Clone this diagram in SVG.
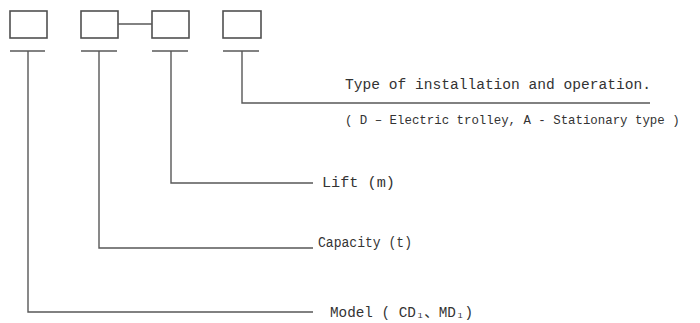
<svg xmlns="http://www.w3.org/2000/svg" width="700" height="323" viewBox="0 0 700 323">
<style>
.box{fill:none;stroke:#505050;stroke-width:1.6}
.ln{fill:none;stroke:#585858;stroke-width:1.4}
.t{font-family:"Liberation Mono","Noto Sans CJK SC",monospace;font-size:14px;fill:#333}
.s{font-size:12.4px}
</style>
<rect width="700" height="323" fill="#fff"/>
<g id="node-model"><rect class="box" x="10" y="11" width="37" height="27"/><line class="ln" x1="10" y1="51" x2="45" y2="51"/></g>
<g id="node-capacity"><rect class="box" x="81" y="11" width="37" height="27"/><line class="ln" x1="81" y1="51" x2="117" y2="51"/></g>
<g id="node-lift"><rect class="box" x="152" y="11" width="37" height="27"/><line class="ln" x1="152" y1="51" x2="188" y2="51"/></g>
<g id="node-type"><rect class="box" x="223" y="11" width="38" height="27"/><line class="ln" x1="223" y1="51" x2="259" y2="51"/></g>
<g id="connectors">
<line class="ln" x1="118" y1="24" x2="152" y2="24"/>
<polyline class="ln" points="242,51 242,103 650,103"/>
<polyline class="ln" points="171,51 171,183 313,183"/>
<polyline class="ln" points="99,51 99,248 313,248"/>
<polyline class="ln" points="28,51 28,312 313,312"/>
</g>
<g id="labels">
<text class="t" x="345" y="89" textLength="306" lengthAdjust="spacingAndGlyphs">Type of installation and operation.</text>
<text class="t s" x="345" y="124">( D – Electric trolley, A - Stationary type )</text>
<text class="t" x="322" y="187" textLength="73" lengthAdjust="spacingAndGlyphs">Lift (m)</text>
<text class="t" x="318" y="247" textLength="94" lengthAdjust="spacingAndGlyphs">Capacity (t)</text>
<text class="t" x="330" y="317" textLength="143" lengthAdjust="spacingAndGlyphs">Model ( CD₁、MD₁)</text>
</g>
</svg>
